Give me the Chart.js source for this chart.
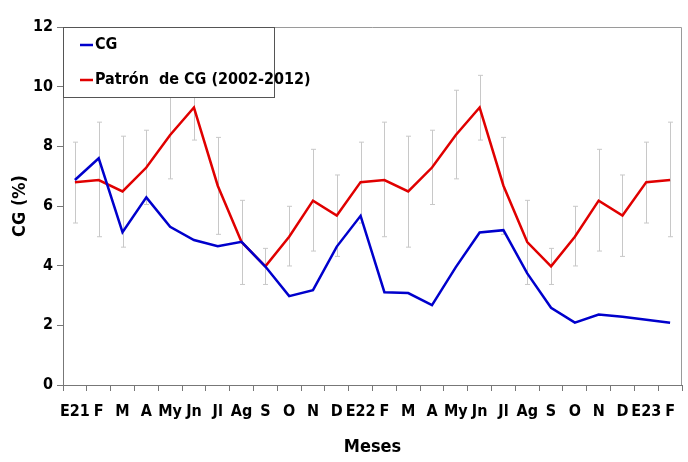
<!DOCTYPE html>
<html>
<head>
<meta charset="utf-8">
<script src="https://cdn.jsdelivr.net/npm/chart.js@4"></script>
<style>
  html, body { margin: 0; padding: 0; background: #fff; }
  #wrap { width: 688px; height: 462px; }
</style>
</head>
<body>
<div id="wrap"><canvas id="myChart"></canvas></div>
<script>
// meses
const meses = ['E21', 'F', 'M', 'A', 'My', 'Jn', 'Jl', 'Ag', 'S', 'O', 'N', 'D',
               'E22', 'F', 'M', 'A', 'My', 'Jn', 'Jl', 'Ag', 'S', 'O', 'N', 'D',
               'E23', 'F'];

// CG observado
const cg = [6.87, 7.60, 5.12, 6.29, 5.30, 4.86, 4.65, 4.80, 3.97, 2.98, 3.18, 4.64,
            5.67, 3.11, 3.08, 2.68, 3.95, 5.11, 5.19, 3.74, 2.59, 2.09, 2.36, 2.29,
            2.19, 2.09];

// patron 2002-2012 con su rango
const patron = [6.80, 6.87, 6.49, 7.29, 8.38, 9.30, 6.68, 4.79, 3.98, 4.97, 6.18, 5.68,
                6.80, 6.87, 6.49, 7.29, 8.38, 9.30, 6.68, 4.79, 3.98, 4.97, 6.18, 5.68,
                6.80, 6.87];
const patronMin = [5.43, 4.97, 4.62, 6.05, 6.91, 8.21, 5.05, 3.37, 3.37, 3.99, 4.49, 4.31,
                   5.43, 4.97, 4.62, 6.05, 6.91, 8.21, 5.05, 3.37, 3.37, 3.99, 4.49, 4.31,
                   5.43, 4.97];
const patronMax = [8.14, 8.81, 8.34, 8.54, 9.88, 10.38, 8.30, 6.19, 4.58, 5.99, 7.90, 7.04,
                   8.14, 8.81, 8.34, 8.54, 9.88, 10.38, 8.30, 6.19, 4.58, 5.99, 7.90, 7.04,
                   8.14, 8.81];

const yTicks = [0, 2, 4, 6, 8, 10, 12];

const fuente = '"DejaVu Sans Condensed", "Liberation Sans Narrow", Arial, sans-serif';

// barras de error + marco + leyenda
const extras = {
    id: 'extras',
    beforeDatasetsDraw(chart) {
        const c = chart.ctx, x = chart.scales.x, y = chart.scales.y;
        c.save();
        c.strokeStyle = '#c8c8c8';
        c.lineWidth = 1;
        patron.forEach((v, i) => {
            const px = Math.round(x.getPixelForValue(i)) + 0.5;
            const top = y.getPixelForValue(patronMax[i]);
            const bot = y.getPixelForValue(patronMin[i]);
            c.beginPath();
            c.moveTo(px, top); c.lineTo(px, bot);
            c.moveTo(px - 2.5, top); c.lineTo(px + 2.5, top);
            c.moveTo(px - 2.5, bot); c.lineTo(px + 2.5, bot);
            c.stroke();
        });
        c.restore();
    },
    afterDatasetsDraw(chart) {
        const c = chart.ctx, a = chart.chartArea;
        c.save();
        c.strokeStyle = '#9a9a9a';
        c.lineWidth = 1;
        c.beginPath();
        c.moveTo(a.left, a.top + 0.5); c.lineTo(a.right - 0.5, a.top + 0.5);
        c.lineTo(a.right - 0.5, a.bottom);
        c.stroke();

        // leyenda
        const lx = a.left, ly = a.top, lw = 211, lh = 70;
        c.fillStyle = '#fff';
        c.fillRect(lx, ly, lw, lh);
        c.strokeStyle = '#555';
        c.strokeRect(lx + 0.5, ly + 0.5, lw, lh);
        c.font = 'bold 16px ' + fuente;
        c.textBaseline = 'middle';
        chart.data.datasets.forEach((ds, i) => {
            const yy = ly + 18 + i * 35;
            c.strokeStyle = ds.borderColor;
            c.lineWidth = 2.5;
            c.beginPath();
            c.moveTo(lx + 17, yy); c.lineTo(lx + 30, yy);
            c.stroke();
            c.fillStyle = '#000';
            c.fillText(ds.label, lx + 32, yy);
        });
        c.restore();
    }
};

const ctx = document.getElementById('myChart').getContext('2d');
const myChart = new Chart(ctx, {
    type: 'line',
    data: {
        labels: meses,
        datasets: [
            {
                label: 'CG',
                data: cg,
                borderColor: '#0000cc',
                borderWidth: 2.5,
                pointRadius: 0,
                tension: 0
            },
            {
                label: 'Patrón  de CG (2002-2012)',
                data: patron,
                borderColor: '#e00000',
                borderWidth: 2.5,
                pointRadius: 0,
                tension: 0
            }
        ]
    },
    options: {
        responsive: true,
        maintainAspectRatio: false,
        animation: false,
        layout: { padding: { top: 27, right: 6, left: 6, bottom: 0 } },
        plugins: {
            legend: { display: false },
            tooltip: { enabled: false }
        },
        scales: {
            x: {
                offset: true,
                grid: { offset: true, drawOnChartArea: false, tickLength: 6, color: '#777' },
                border: { color: '#777' },
                ticks: {
                    color: '#000',
                    maxRotation: 0,
                    autoSkip: false,
                    padding: 11,
                    font: { family: fuente, size: 16, weight: 'bold' }
                },
                title: {
                    display: true,
                    text: 'Meses',
                    color: '#000',
                    padding: { top: 16 },
                    font: { family: fuente, size: 18, weight: 'bold' }
                },
                afterFit(s) { s.height = 77; }
            },
            y: {
                min: 0,
                max: 12,
                afterBuildTicks(s) { s.ticks = yTicks.map(v => ({ value: v })); },
                grid: { drawOnChartArea: false, tickLength: 6, color: '#777' },
                border: { color: '#777' },
                ticks: {
                    color: '#000',
                    padding: 4,
                    font: { family: fuente, size: 16, weight: 'bold' }
                },
                title: {
                    display: true,
                    text: 'CG (%)',
                    color: '#000',
                    padding: { bottom: 8 },
                    font: { family: fuente, size: 18, weight: 'bold' }
                },
                afterFit(s) { s.width = 57; }
            }
        }
    },
    plugins: [extras]
});
</script>
</body>
</html>
